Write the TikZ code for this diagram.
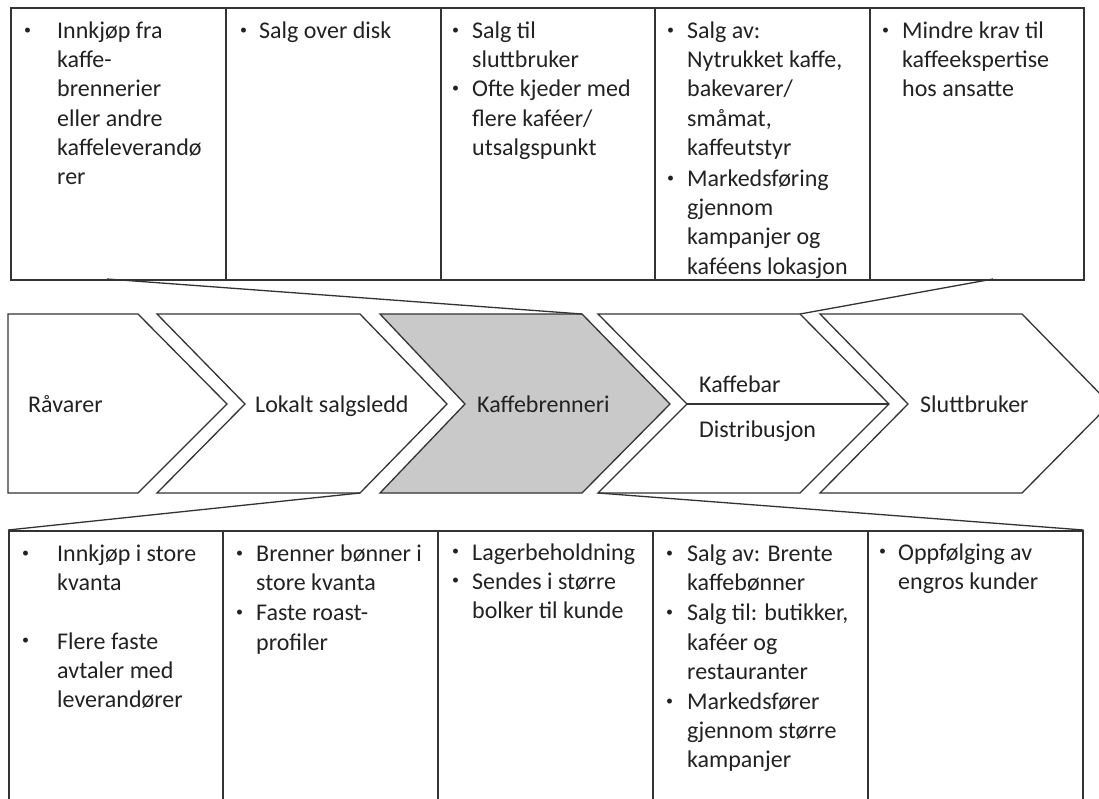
\documentclass[tikz,border=0pt]{standalone}
\usepackage{fontspec}
\setmainfont{Carlito}
\definecolor{linegray}{HTML}{333333}
\definecolor{textgray}{HTML}{222222}
\definecolor{chevfill}{HTML}{C9C9C9}
% small raised bullet set in a box of the given width (pt); text follows at its right edge
\newcommand{\bu}[1]{\makebox[#1pt][l]{\hspace{3pt}{\fontsize{14}{14}\selectfont\raisebox{4.5pt}{\textbullet}}}}
\begin{document}
\begin{tikzpicture}[x=1pt,y=-1pt,
  panel/.style={draw=linegray, line width=1.6pt, fill=white, inner sep=0pt, anchor=north west},
  chev/.style={draw=linegray, line width=1.3pt, fill=white, line join=miter},
  link/.style={draw=linegray, line width=1.3pt},
  lbl/.style={inner sep=0pt, anchor=base west, text=textgray, font=\fontsize{24}{29.2}\selectfont},
  txt/.style={inner sep=0pt, anchor=base west, text=textgray, font=\fontsize{24}{29.2}\selectfont}]
\useasboundingbox (0,0) rectangle (1099,798);
\fill[white] (0,0) rectangle (1099,798);

% ---- upper detail panels (Kaffebar) ----
\node[panel, minimum width=215pt, minimum height=272pt] (top1) at (10,7) {};
\node[panel, minimum width=215pt, minimum height=272pt] (top2) at (225,7) {};
\node[panel, minimum width=214pt, minimum height=272pt] (top3) at (440,7) {};
\node[panel, minimum width=215pt, minimum height=272pt] (top4) at (654,7) {};
\node[panel, minimum width=214pt, minimum height=272pt] (top5) at (869,7) {};

% ---- lower detail panels (Kaffebrenneri) ----
\node[panel, minimum width=214pt, minimum height=290pt] (bot1) at (8,530) {};
\node[panel, minimum width=215pt, minimum height=290pt] (bot2) at (222,530) {};
\node[panel, minimum width=215pt, minimum height=290pt] (bot3) at (437,530) {};
\node[panel, minimum width=215pt, minimum height=290pt] (bot4) at (652,530) {};
\node[panel, minimum width=215pt, minimum height=290pt] (bot5) at (867,530) {};

% ---- value chain chevrons ----
\draw[chev] (8,314) -- (138,314) -- (227,404) -- (138,493) -- (8,493) -- cycle;
\draw[chev] (157,314) -- (360,314) -- (447,404) -- (360,493) coordinate (lokbr)
  -- (157,493) -- (245,404) -- cycle;
\draw[chev, fill=chevfill] (380,314) -- (582,314) coordinate (kbtr) -- (670,404)
  -- (582,493) -- (380,493) -- (465,404) -- cycle;
\draw[chev] (598,314) -- (800,314) coordinate (bartr) -- (889,404) coordinate (bartip)
  -- (800,493) -- (598,493) coordinate (barbl) -- (687,404) coordinate (barnotch) -- cycle;
\draw[chev] (820,314) -- (1022,314) -- (1110,404) -- (1022,493) -- (820,493) -- (908,404) -- cycle;
\draw[link, line width=1.2pt] (barnotch) -- (bartip);

\node[lbl] (rav) at (28,412) {Råvarer};
\node[lbl] (lok) at (255,412) {Lokalt salgsledd};
\node[lbl] (kb) at (477,412) {Kaffebrenneri};
\node[lbl] (kbar) at (699,392) {Kaffebar};
\node[lbl] (dist) at (699,437) {Distribusjon};
\node[lbl] (slutt) at (920,412) {Sluttbruker};

% ---- funnel lines linking panels and chevrons ----
\coordinate (t1foot) at (107,279);
\coordinate (t5foot) at (993,279);
\draw[link] (t1foot) -- (kbtr);
\draw[link] (t5foot) -- (bartr);
\draw[link] (lokbr) -- (bot1.north west);
\draw[link] (barbl) -- (bot5.north east);

% ---- upper panel texts ----
\node[txt] (tt1) at (21,38.5) {\begin{tabular}[t]{@{}l@{}l@{}}
\bu{36} & Innkjøp fra\\
 & kaffe-\\
 & brennerier\\
 & eller andre\\
 & kaffeleverandø\\
 & rer
\end{tabular}};
\node[txt] (tt2) at (237,38.5) {\begin{tabular}[t]{@{}l@{}l@{}}
\bu{22} & Salg over disk
\end{tabular}};
\node[txt] (tt3) at (449,38.5) {\begin{tabular}[t]{@{}l@{}l@{}}
\bu{23} & Salg til\\
 & sluttbruker\\
\bu{23} & Ofte kjeder med\\
 & flere kaféer/\\
 & utsalgspunkt
\end{tabular}};
\node[txt] (tt4) at (664,38.5) {\begin{tabular}[t]{@{}l@{}l@{}}
\bu{23} & Salg av:\\
 & Nytrukket kaffe,\\
 & bakevarer/\\
 & småmat,\\
 & kaffeutstyr\\[2pt]
\bu{23} & Markedsføring\\
 & gjennom\\
 & kampanjer og\\
 & kaféens lokasjon
\end{tabular}};
\node[txt] (tt5) at (879,38.5) {\begin{tabular}[t]{@{}l@{}l@{}}
\bu{23} & Mindre krav til\\
 & kaffeekspertise\\
 & hos ansatte
\end{tabular}};

% ---- lower panel texts ----
\node[txt] (bt1) at (19,561.5) {\begin{tabular}[t]{@{}l@{}l@{}}
\bu{38} & Innkjøp i store\\
 & kvanta\\
 & \\
\bu{38} & Flere faste\\
 & avtaler med\\
 & leverandører
\end{tabular}};
\node[txt] (bt2) at (233,561.5) {\begin{tabular}[t]{@{}l@{}l@{}}
\bu{23} & Brenner bønner i\\
 & store kvanta\\[1pt]
\bu{23} & Faste roast-\\
 & profiler
\end{tabular}};
\node[txt] (bt3) at (449,560) {\begin{tabular}[t]{@{}l@{}l@{}}
\bu{23} & Lagerbeholdning\\
\bu{23} & Sendes i større\\
 & bolker til kunde
\end{tabular}};
\node[txt] (bt4) at (663,561.5) {\begin{tabular}[t]{@{}l@{}l@{}}
\bu{24} & Salg av: Brente\\
 & kaffebønner\\[1pt]
\bu{24} & Salg til: butikker,\\
 & kaféer og\\
 & restauranter\\[1pt]
\bu{24} & Markedsfører\\
 & gjennom større\\
 & kampanjer
\end{tabular}};
\node[txt] (bt5) at (876,560) {\begin{tabular}[t]{@{}l@{}l@{}}
\bu{22} & Oppfølging av\\
 & engros kunder
\end{tabular}};
\end{tikzpicture}
\end{document}
